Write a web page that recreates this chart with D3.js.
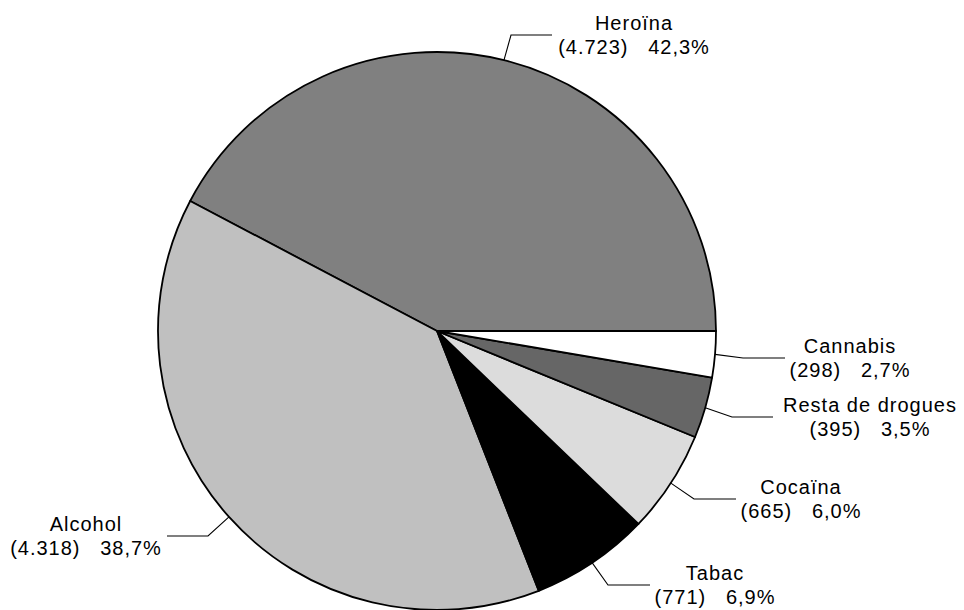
<!DOCTYPE html>
<html>
<head>
<meta charset="utf-8">
<script src="https://cdn.jsdelivr.net/npm/d3@7"></script>
<style>
  html, body { margin: 0; padding: 0; background: #fff; }
  svg { display: block; }
  text { font-family: "Liberation Sans", Arial, sans-serif; font-size: 20px; letter-spacing: 1px; fill: #000; white-space: pre; }
</style>
</head>
<body>
<svg id="chart" width="964" height="610"></svg>
<script>
const categories = ["Heroïna", "Alcohol", "Tabac", "Cocaïna", "Resta de drogues", "Cannabis"];
const counts = [4723, 4318, 771, 665, 395, 298];
const countLabels = ["4.723", "4.318", "771", "665", "395", "298"];
const percentLabels = ["42,3%", "38,7%", "6,9%", "6,0%", "3,5%", "2,7%"];

const colors = ["#808080", "#c0c0c0", "#000000", "#dcdcdc", "#666666", "#ffffff"];

// label layout: elbow point, horizontal line end, text centre, first baseline
const labelLayout = [
  { elbow: [511, 35],  endX: 552, cx: 634, y: 30 },
  { elbow: [208, 535], endX: 167, cx: 86,  y: 531 },
  { elbow: [608, 586], endX: 650, cx: 715, y: 580 },
  { elbow: [694, 499], endX: 736, cx: 801, y: 494 },
  { elbow: [732, 417], endX: 773, cx: 870, y: 412 },
  { elbow: [743, 358], endX: 785, cx: 850, y: 353 }
];

const cx = 437, cy = 331, r = 279;
const svg = d3.select("#chart");
const g = svg.append("g").attr("transform", `translate(${cx},${cy})`);

const data = categories.map((c, i) => ({ name: c, value: counts[i], i }));
const pie = d3.pie().value(d => d.value).sort(null)
  .startAngle(Math.PI / 2).endAngle(Math.PI / 2 - 2 * Math.PI);
const arcs = pie(data);
const arc = d3.arc().innerRadius(0).outerRadius(r);

g.selectAll("path.slice").data(arcs).enter().append("path")
  .attr("class", "slice")
  .attr("d", arc)
  .attr("fill", d => colors[d.data.i])
  .attr("stroke", "#000")
  .attr("stroke-width", 1.8)
  .attr("stroke-linejoin", "round");

// leader lines
arcs.forEach(a => {
  const L = labelLayout[a.data.i];
  const mid = (a.startAngle + a.endAngle) / 2;
  const px = cx + r * Math.sin(mid);
  const py = cy - r * Math.cos(mid);
  const ly = L.y + 5;
  svg.append("polyline")
    .attr("points", `${px},${py} ${L.elbow[0]},${ly} ${L.endX},${ly}`)
    .attr("fill", "none")
    .attr("stroke", "#000")
    .attr("stroke-width", 1.1);
  const t = svg.append("text").attr("text-anchor", "middle");
  t.append("tspan").attr("x", L.cx).attr("y", L.y).text(categories[a.data.i]);
  t.append("tspan").attr("x", L.cx).attr("y", L.y + 24)
    .text(`(${countLabels[a.data.i]})   ${percentLabels[a.data.i]}`);
});
</script>
</body>
</html>
